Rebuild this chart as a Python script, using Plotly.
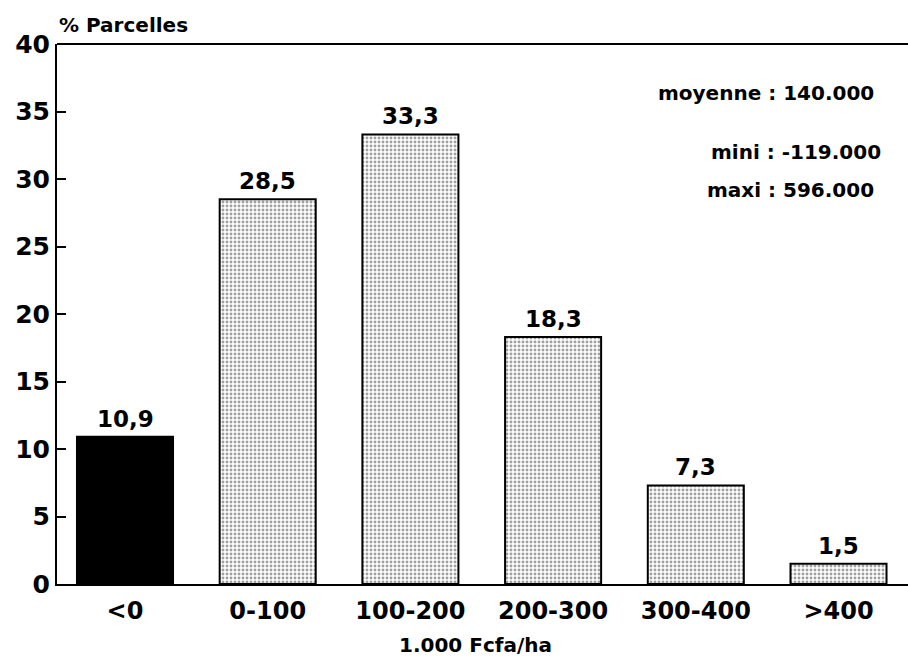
import plotly.graph_objects as go

categories = ["<0", "0-100", "100-200", "200-300", "300-400", ">400"]
values = [10.9, 28.5, 33.3, 18.3, 7.3, 1.5]
value_labels = ["10,9", "28,5", "33,3", "18,3", "7,3", "1,5"]
y_ticks = [0, 5, 10, 15, 20, 25, 30, 35, 40]
stats_lines = ["moyenne : 140.000", "mini : -119.000", "maxi : 596.000"]

FONT = "DejaVu Sans"
L, T, R_, B = 57, 44, 908, 584
PW, PH = R_ - L, B - T

fill_colors = ["black"] + ["white"] * 5
pattern_shapes = [""] + ["."] * 5

fig = go.Figure()
fig.add_trace(go.Bar(
    x=categories,
    y=values,
    width=0.673,
    marker=dict(
        color=fill_colors,
        line=dict(color="black", width=2),
        pattern=dict(shape=pattern_shapes, fgcolor="#3a3a3a", bgcolor="white",
                     size=4, solidity=0.42, fillmode="overlay"),
    ),
    hoverinfo="skip",
))

annotations = []
for c, v, t in zip(categories, values, value_labels):
    annotations.append(dict(x=c, y=v, text=t, showarrow=False, yanchor="bottom",
                            yshift=3, font=dict(family=FONT, size=23, color="black", weight="bold")))

annotations.append(dict(xref="paper", yref="paper", x=0.0, y=(B - 25) / PH, text="% Parcelles",
                        showarrow=False, xanchor="left", yanchor="middle",
                        font=dict(family=FONT, size=20, color="black", weight="bold")))

stat_pos = [(876, 93), (883, 152), (876, 190)]
for txt, (px, py) in zip(stats_lines, stat_pos):
    annotations.append(dict(xref="paper", yref="paper",
                            x=(px - L) / PW, y=(B - py) / PH,
                            text=txt, showarrow=False,
                            xanchor="right", yanchor="middle",
                            font=dict(family=FONT, size=20, color="black", weight="bold")))

annotations.append(dict(xref="paper", yref="paper", x=(475 - L) / PW, y=(B - 645) / PH,
                        text="1.000 Fcfa/ha", showarrow=False, xanchor="center", yanchor="middle",
                        font=dict(family=FONT, size=20, color="black", weight="bold")))

fig.update_layout(
    width=908, height=659,
    margin=dict(l=L, r=0, t=T, b=659 - B),
    paper_bgcolor="white", plot_bgcolor="white",
    showlegend=False,
    annotations=annotations,
    shapes=[dict(type="line", xref="paper", yref="paper", x0=0, x1=1, y0=1, y1=1,
                 line=dict(color="black", width=2))],
    font=dict(family=FONT, color="black"),
)
fig.update_xaxes(
    range=[-0.4765, 5.487],
    showline=True, linecolor="black", linewidth=2,
    ticks="outside", ticklen=4, tickcolor="rgba(0,0,0,0)",
    showgrid=False, zeroline=False,
    tickfont=dict(family=FONT, size=24, color="black", weight="bold"),
)
fig.update_yaxes(
    range=[0, 40],
    tickvals=y_ticks,
    showline=True, linecolor="black", linewidth=2,
    ticks="inside", ticklen=9, tickwidth=2, tickcolor="black",
    showgrid=False, zeroline=False,
    tickfont=dict(family=FONT, size=25, color="black", weight="bold"),
)

fig.write_html("out.html")
